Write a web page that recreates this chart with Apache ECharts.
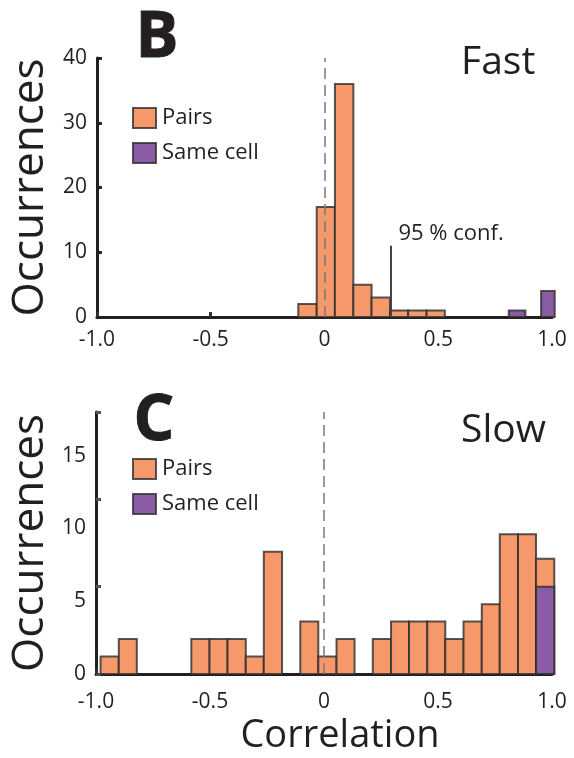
<!DOCTYPE html>
<html>
<head>
<meta charset="utf-8">
<script src="https://cdn.jsdelivr.net/npm/echarts@6/dist/echarts.min.js"></script>
<style>
  html, body { margin: 0; padding: 0; background: #fff; }
  #chart { width: 574px; height: 758px; }
</style>
</head>
<body>
<div id="chart"></div>
<script>
// ---- Data -------------------------------------------------------------
// Shared x-axis ticks (correlation)
const xTickValues = [-1, -0.5, 0, 0.5, 1];
const xTickLabels = ['-1.0', '-0.5', '0', '0.5', '1.0'];

// Panel B, "Fast": histogram of pair correlations
const fastPairsLeft   = [-0.115, -0.034, 0.046, 0.127, 0.207, 0.288, 0.368, 0.449];
const fastPairsRight  = [-0.034, 0.046, 0.127, 0.207, 0.288, 0.368, 0.449, 0.529];
const fastPairsCounts = [2, 17, 36, 5, 3, 1, 1, 1];
// Same-cell correlations
const fastSameLeft    = [0.81, 0.952];
const fastSameRight   = [0.883, 1.012];
const fastSameCounts  = [1, 4];
// 95 % confidence threshold
const fastConfX = 0.29;
const fastConfTop = 11;

// Panel C, "Slow": histogram of pair correlations
const slowPairsLeft = [-0.980, -0.900, -0.821, -0.741, -0.662, -0.582, -0.502, -0.423, -0.343,
  -0.264, -0.184, -0.104, -0.025, 0.055, 0.134, 0.214, 0.294, 0.373, 0.453, 0.532, 0.612,
  0.692, 0.771, 0.851, 0.930];
const slowPairsRight = [-0.900, -0.821, -0.741, -0.662, -0.582, -0.502, -0.423, -0.343, -0.264,
  -0.184, -0.104, -0.025, 0.055, 0.134, 0.214, 0.294, 0.373, 0.453, 0.532, 0.612, 0.692,
  0.771, 0.851, 0.930, 1.010];
const slowPairsCounts = [1, 2, 0, 0, 0, 2, 2, 2, 1, 7, 0, 3, 1, 2, 0, 2, 3, 3, 3, 2, 3, 4, 8, 8, 6.6];
const slowSameLeft   = [0.930];
const slowSameRight  = [1.010];
const slowSameCounts = [5];
const slowYTickLabels = ['0', '5', '10', '15'];

// ---- Styling -------------------------------------------------------------
const FONT = '"Open Sans", "Noto Sans", sans-serif';
const INK = '#231f20';
const ORANGE = '#F6996A';
const PURPLE = '#8A5CA6';
const EDGE = 'rgba(45,45,45,0.8)';

function bins(left, right, counts) {
  return counts.map((c, i) => [left[i], right[i], c]).filter(d => d[2] > 0);
}

function renderBin(params, api) {
  const top = api.coord([api.value(0), api.value(2)]);
  const bottom = api.coord([api.value(1), 0]);
  return {
    type: 'rect',
    shape: { x: top[0], y: top[1], width: bottom[0] - top[0], height: bottom[1] - top[1] },
    style: api.style()
  };
}

function xAxisFor(gridIndex, labelMargin) {
  return {
    type: 'value', gridIndex, min: -1, max: 1, interval: 0.5,
    axisLine: { show: true, onZero: false, lineStyle: { color: INK, width: 3 } },
    axisTick: { show: true, inside: true, length: 5, lineStyle: { color: '#3b2b2b', width: 3 } },
    splitLine: { show: false },
    axisLabel: {
      fontFamily: FONT, fontSize: 21, color: INK, margin: labelMargin,
      formatter: v => {
        const i = xTickValues.findIndex(t => Math.abs(t - v) < 1e-9);
        return i >= 0 ? xTickLabels[i] : '';
      }
    }
  };
}

const zeroLine = {
  silent: true, symbol: 'none',
  label: { show: false },
  lineStyle: { color: 'rgba(120,120,120,0.75)', type: [11, 6], width: 2 },
  data: [{ xAxis: 0 }]
};

const legendCommon = {
  orient: 'vertical', icon: 'rect', itemWidth: 23, itemHeight: 20, itemGap: 13,
  data: ['Pairs', 'Same cell'], selectedMode: false,
  itemStyle: { borderColor: EDGE, borderWidth: 2 },
  textStyle: { fontFamily: FONT, fontSize: 22, color: INK, lineHeight: 20, padding: [0, 0, 0, 1] }
};

const chart = echarts.init(document.getElementById('chart'), null, { renderer: 'canvas' });

chart.setOption({
  animation: false,
  backgroundColor: '#fff',
  grid: [
    { left: 96, right: 22, top: 58, height: 259 },
    { left: 96, right: 22, top: 412, height: 262 }
  ],
  xAxis: [xAxisFor(0, 13), xAxisFor(1, 18)],
  yAxis: [
    {
      type: 'value', gridIndex: 0, min: 0, max: 40, interval: 10, position: 'left',
      name: 'Occurrences', nameLocation: 'middle', nameGap: 44,
      nameTextStyle: { fontFamily: FONT, fontSize: 44, color: INK },
      axisLine: { show: true, onZero: false, lineStyle: { color: INK, width: 3 } },
      axisTick: { show: true, inside: true, length: 5, lineStyle: { color: INK, width: 3 } },
      splitLine: { show: false },
      axisLabel: { fontFamily: FONT, fontSize: 21, color: INK, margin: 10 }
    },
    {
      // counts axis of panel C (line and ticks)
      type: 'value', gridIndex: 1, min: 0, max: 15, interval: 5, position: 'left',
      name: 'Occurrences', nameLocation: 'middle', nameGap: 44,
      nameTextStyle: { fontFamily: FONT, fontSize: 44, color: INK },
      axisLine: { show: true, onZero: false, lineStyle: { color: INK, width: 3 } },
      axisTick: { show: true, inside: true, length: 5, lineStyle: { color: '#555', width: 3 } },
      splitLine: { show: false },
      axisLabel: { show: false }
    },
    {
      // tick labels of panel C, set on their own scale
      type: 'value', gridIndex: 1, min: 0, max: 18, interval: 5, position: 'left',
      axisLine: { show: false, onZero: false }, axisTick: { show: false }, splitLine: { show: false },
      axisLabel: {
        fontFamily: FONT, fontSize: 21, color: INK, margin: 10, showMaxLabel: false,
        formatter: v => slowYTickLabels[Math.round(v / 5)] || ''
      }
    }
  ],
  legend: [
    Object.assign({ left: 127, top: 102 }, legendCommon),
    Object.assign({ left: 127, top: 453 }, legendCommon)
  ],
  graphic: [
    { type: 'text', left: 135, top: 6, style: { text: 'B', font: `bold 64px ${FONT}`, fill: INK, stroke: INK, lineWidth: 1 } },
    { type: 'text', left: 133, top: 389, style: { text: 'C', font: `bold 64px ${FONT}`, fill: INK, stroke: INK, lineWidth: 1 } },
    { type: 'text', x: 461, y: 63, style: { text: 'Fast', font: `39px ${FONT}`, fill: INK, textVerticalAlign: 'middle' } },
    { type: 'text', x: 461, y: 431, style: { text: 'Slow', font: `39px ${FONT}`, fill: INK, textVerticalAlign: 'middle' } },
    { type: 'text', x: 340, y: 736, style: { text: 'Correlation', font: `38px ${FONT}`, fill: INK, textAlign: 'center', textVerticalAlign: 'middle' } }
  ],
  series: [
    {
      name: 'Pairs', type: 'custom', xAxisIndex: 0, yAxisIndex: 0, z: 3,
      renderItem: renderBin,
      itemStyle: { color: ORANGE, borderColor: EDGE, borderWidth: 2 },
      encode: { x: [0, 1], y: 2 },
      data: bins(fastPairsLeft, fastPairsRight, fastPairsCounts),
      markLine: Object.assign({}, zeroLine, {
        data: [
          { xAxis: 0 },
          [
            { coord: [fastConfX, 0], lineStyle: { color: '#444', type: 'solid', width: 2 } },
            { coord: [fastConfX, fastConfTop] }
          ]
        ]
      })
    },
    {
      name: 'Same cell', type: 'custom', xAxisIndex: 0, yAxisIndex: 0, z: 3,
      renderItem: renderBin,
      itemStyle: { color: PURPLE, borderColor: EDGE, borderWidth: 2 },
      encode: { x: [0, 1], y: 2 },
      data: bins(fastSameLeft, fastSameRight, fastSameCounts)
    },
    {
      name: '95 % conf.', type: 'scatter', xAxisIndex: 0, yAxisIndex: 0, silent: true,
      symbolSize: 0, data: [[fastConfX, fastConfTop]],
      label: {
        show: true, position: 'right', distance: 8, offset: [0, -12],
        formatter: '95 % conf.', fontFamily: FONT, fontSize: 22, color: INK,
        textBorderWidth: 0, opacity: 1
      },
      emphasis: { disabled: true }
    },
    {
      name: 'Pairs', type: 'custom', xAxisIndex: 1, yAxisIndex: 1, z: 3,
      renderItem: renderBin,
      itemStyle: { color: ORANGE, borderColor: EDGE, borderWidth: 2 },
      encode: { x: [0, 1], y: 2 },
      data: bins(slowPairsLeft, slowPairsRight, slowPairsCounts),
      markLine: zeroLine
    },
    {
      name: 'Same cell', type: 'custom', xAxisIndex: 1, yAxisIndex: 1, z: 4,
      renderItem: renderBin,
      itemStyle: { color: PURPLE, borderColor: EDGE, borderWidth: 2 },
      encode: { x: [0, 1], y: 2 },
      data: bins(slowSameLeft, slowSameRight, slowSameCounts)
    }
  ]
});
</script>
</body>
</html>
